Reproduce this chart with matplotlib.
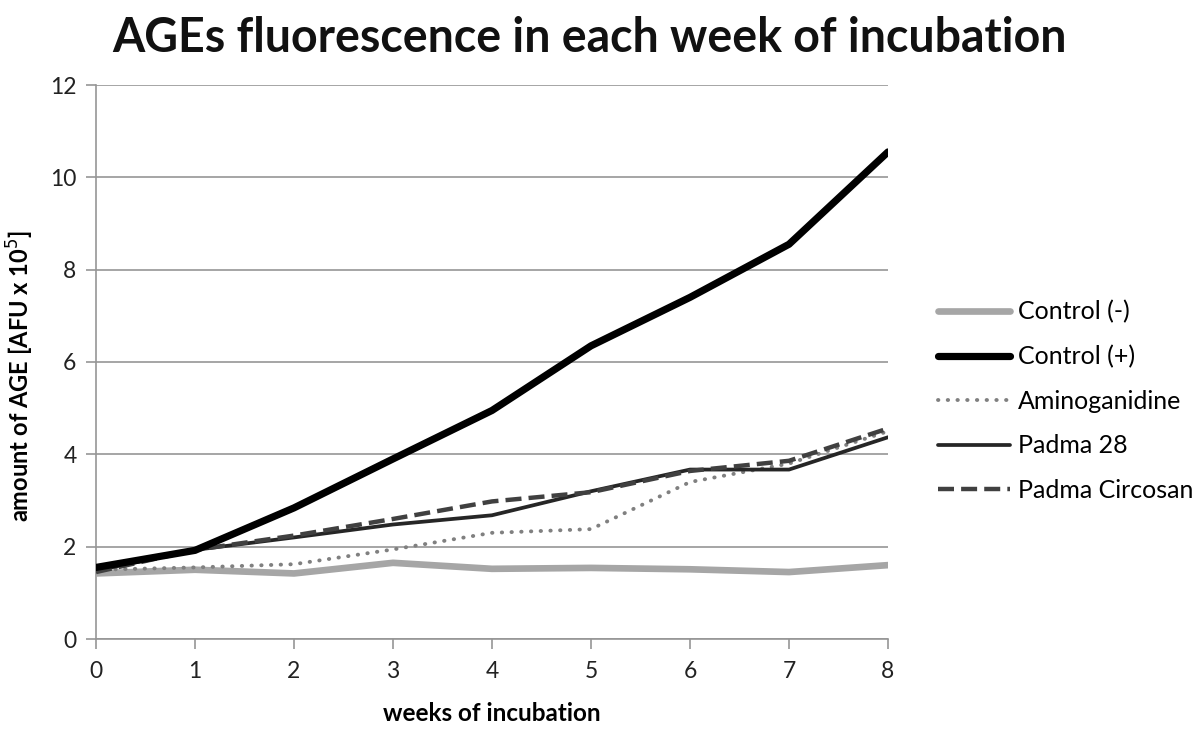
import matplotlib
matplotlib.use("Agg")
import matplotlib.pyplot as plt

weeks = [0, 1, 2, 3, 4, 5, 6, 7, 8]
control_neg = [1.42, 1.50, 1.42, 1.65, 1.52, 1.54, 1.51, 1.45, 1.60]
control_pos = [1.55, 1.92, 2.84, 3.90, 4.95, 6.35, 7.40, 8.55, 10.55]
aminoganidine = [1.50, 1.55, 1.62, 1.94, 2.30, 2.38, 3.40, 3.80, 4.50]
padma28 = [1.48, 1.93, 2.20, 2.48, 2.68, 3.20, 3.67, 3.67, 4.37]
padma_circosan = [1.45, 1.93, 2.24, 2.60, 2.98, 3.18, 3.64, 3.86, 4.56]
labels = ["Control (-)", "Control (+)", "Aminoganidine", "Padma 28", "Padma Circosan"]
yticks = [0, 2, 4, 6, 8, 10, 12]

plt.rcParams['font.family'] = ['Lato', 'DejaVu Sans']

fig = plt.figure(figsize=(12, 7.31), dpi=100)
ax = fig.add_axes([96/1200, 1-639/731, (888-96)/1200, (639-85)/731])

ax.plot(weeks, control_neg, color='#a6a6a6', lw=4.8, solid_capstyle='round', label=labels[0], zorder=3)
ax.plot(weeks, control_pos, color='#000000', lw=5.2, solid_capstyle='round', label=labels[1], zorder=6)
ax.plot(weeks, aminoganidine, color='#808080', lw=2.8, linestyle=(0, (0.1, 2.4)), dash_capstyle='round', label=labels[2], zorder=4)
ax.plot(weeks, padma28, color='#262626', lw=2.7, solid_capstyle='round', label=labels[3], zorder=5)
ax.plot(weeks, padma_circosan, color='#404040', lw=3.2, linestyle=(0, (3.6, 1.6)), label=labels[4], zorder=5)

ax.set_xlim(0, 8)
ax.set_ylim(0, 12)
ax.set_yticks(yticks)
ax.set_xticks(weeks)
ax.yaxis.grid(True, color='#969696', lw=1.2)
ax.set_axisbelow(True)
for s in ['top', 'right']:
    ax.spines[s].set_visible(False)
for s in ['left', 'bottom']:
    ax.spines[s].set_color('#969696')
    ax.spines[s].set_linewidth(1.2)
ax.tick_params(axis='both', colors='#969696', length=7, width=1.2, labelcolor='#222222', labelsize=16.5)
ax.tick_params(axis='x', pad=9)
ax.tick_params(axis='y', pad=7)

ax.set_xlabel('weeks of incubation', fontsize=17.5, fontweight='bold', labelpad=14)
ax.set_ylabel('amount of AGE [AFU x 10$^5$]', fontsize=17, fontweight='bold')
ax.yaxis.set_label_coords(-0.0755, 0.475)

fig.text(590/1200, 1-38/731, 'AGEs fluorescence in each week of incubation', ha='center', va='center',
         fontsize=33.5, fontweight='bold', color='#111111')

fig.legend(loc='center left', bbox_to_anchor=(915/1200, 1-401/731), frameon=False, fontsize=18,
           handlelength=2.9, labelspacing=0.86, handletextpad=0.3)

fig.savefig('out.png', dpi=100)
